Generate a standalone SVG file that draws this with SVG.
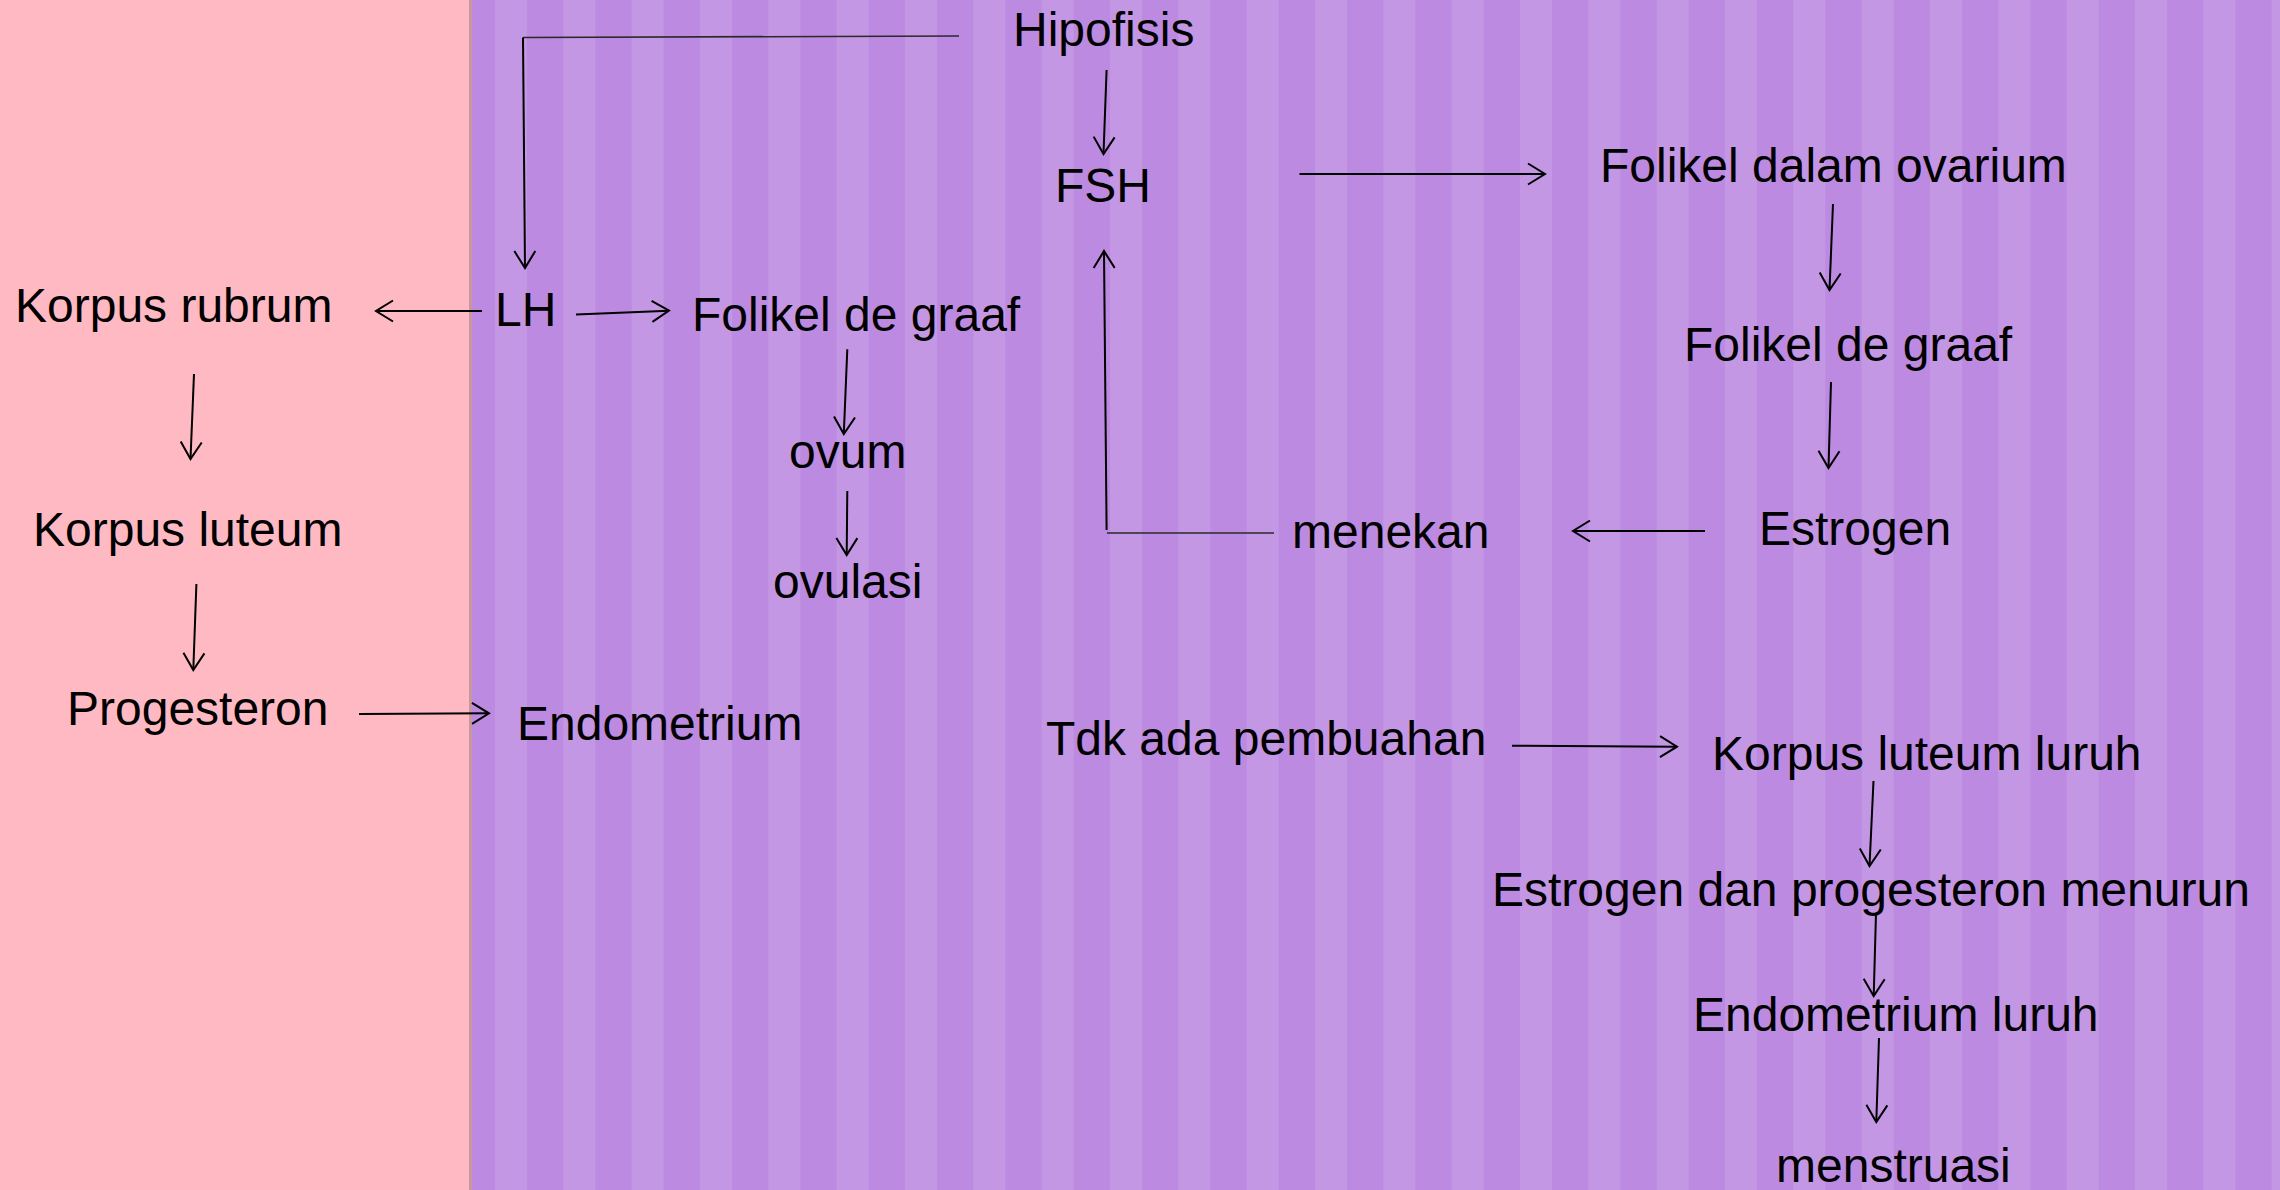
<svg xmlns="http://www.w3.org/2000/svg" width="2280" height="1190" viewBox="0 0 2280 1190">
<defs>
<style>
.t{font-family:"Liberation Sans",Arial,sans-serif;font-size:48px;fill:#000}
.c{fill:none;stroke:#000;stroke-width:2;marker-end:url(#ah)}
.thin{fill:none;stroke:#2a2a2a;stroke-width:1.6}
.lt{fill:#C497E4}
</style>
<marker id="ah" markerUnits="userSpaceOnUse" markerWidth="40" markerHeight="40" refX="0" refY="0" viewBox="-20 -20 40 40" orient="auto" overflow="visible">
<path d="M-17,-10.5 L0,0 L-17,10.5" fill="none" stroke="#000" stroke-width="2"/>
</marker>
</defs>
<rect x="0" y="0" width="2280" height="1190" fill="#BC8AE1"/>
<g id="stripes">
<rect class="lt" x="495" y="0" width="32" height="1190"/>
<rect class="lt" x="563.3" y="0" width="32" height="1190"/>
<rect class="lt" x="631.7" y="0" width="32" height="1190"/>
<rect class="lt" x="700" y="0" width="32" height="1190"/>
<rect class="lt" x="768.3" y="0" width="32" height="1190"/>
<rect class="lt" x="836.7" y="0" width="32" height="1190"/>
<rect class="lt" x="905" y="0" width="32" height="1190"/>
<rect class="lt" x="973.3" y="0" width="32" height="1190"/>
<rect class="lt" x="1041.7" y="0" width="32" height="1190"/>
<rect class="lt" x="1110" y="0" width="32" height="1190"/>
<rect class="lt" x="1178.3" y="0" width="32" height="1190"/>
<rect class="lt" x="1246.7" y="0" width="32" height="1190"/>
<rect class="lt" x="1315" y="0" width="32" height="1190"/>
<rect class="lt" x="1383.3" y="0" width="32" height="1190"/>
<rect class="lt" x="1451.7" y="0" width="32" height="1190"/>
<rect class="lt" x="1520" y="0" width="32" height="1190"/>
<rect class="lt" x="1588.3" y="0" width="32" height="1190"/>
<rect class="lt" x="1656.7" y="0" width="32" height="1190"/>
<rect class="lt" x="1725" y="0" width="32" height="1190"/>
<rect class="lt" x="1793.3" y="0" width="32" height="1190"/>
<rect class="lt" x="1861.7" y="0" width="32" height="1190"/>
<rect class="lt" x="1930" y="0" width="32" height="1190"/>
<rect class="lt" x="1998.3" y="0" width="32" height="1190"/>
<rect class="lt" x="2066.7" y="0" width="32" height="1190"/>
<rect class="lt" x="2135" y="0" width="32" height="1190"/>
<rect class="lt" x="2203.3" y="0" width="32" height="1190"/>
<rect class="lt" x="2271.7" y="0" width="32" height="1190"/>
</g>
<rect id="pink-panel" x="0" y="0" width="469" height="1190" fill="#FFB9C3"/>
<rect x="469" y="0" width="3" height="1190" fill="#C7969E"/>

<g id="connectors">
<path class="thin" d="M959,36 L523,37.5"/>
<path class="c" d="M523,37.5 L525,268"/>
<path class="c" d="M1106.6,70 L1103.5,154"/>
<path class="c" d="M1299.5,174 L1545,174"/>
<path class="c" d="M1833,204 L1829.5,290"/>
<path class="c" d="M1831,382 L1828.5,468"/>
<path class="c" d="M1705,531 L1573,531"/>
<path class="thin" d="M1274,533 L1107,533"/>
<path class="c" d="M1106.6,530 L1104,251"/>
<path class="c" d="M482,311 L376,311"/>
<path class="c" d="M576,314.5 L669,310.7"/>
<path class="c" d="M847.3,349.3 L843.8,434"/>
<path class="c" d="M847.3,491 L846.7,555"/>
<path class="c" d="M194,374 L190.5,459"/>
<path class="c" d="M196.4,584 L193.3,670"/>
<path class="c" d="M359,714 L489,713.3"/>
<path class="c" d="M1512,745.7 L1677,746.7"/>
<path class="c" d="M1873.5,781 L1869.5,866"/>
<path class="c" d="M1876,913 L1873.7,996"/>
<path class="c" d="M1879,1038 L1876.3,1122"/>
</g>

<g id="n-hipofisis"><text class="t" x="1013" y="45.5">Hipofisis</text></g>
<g id="n-fsh"><text class="t" x="1055" y="202">FSH</text></g>
<g id="n-folikel-ovarium"><text class="t" x="1600" y="182">Folikel dalam ovarium</text></g>
<g id="n-folikel-graaf-r"><text class="t" x="1684" y="361">Folikel de graaf</text></g>
<g id="n-estrogen"><text class="t" x="1759" y="545">Estrogen</text></g>
<g id="n-menekan"><text class="t" x="1292" y="548">menekan</text></g>
<g id="n-lh"><text class="t" x="495" y="326">LH</text></g>
<g id="n-korpus-rubrum"><text class="t" x="15" y="322">Korpus rubrum</text></g>
<g id="n-folikel-graaf-m"><text class="t" x="692" y="331">Folikel de graaf</text></g>
<g id="n-ovum"><text class="t" x="789" y="468">ovum</text></g>
<g id="n-ovulasi"><text class="t" x="773" y="598">ovulasi</text></g>
<g id="n-korpus-luteum"><text class="t" x="33" y="546">Korpus luteum</text></g>
<g id="n-progesteron"><text class="t" x="67" y="725">Progesteron</text></g>
<g id="n-endometrium"><text class="t" x="517" y="740">Endometrium</text></g>
<g id="n-tdk"><text class="t" x="1046" y="755">Tdk ada pembuahan</text></g>
<g id="n-kll"><text class="t" x="1712" y="770">Korpus luteum luruh</text></g>
<g id="n-edp"><text class="t" x="1492" y="906">Estrogen dan progesteron menurun</text></g>
<g id="n-endo-luruh"><text class="t" x="1693" y="1031">Endometrium luruh</text></g>
<g id="n-menstruasi"><text class="t" x="1776" y="1182">menstruasi</text></g>
</svg>
